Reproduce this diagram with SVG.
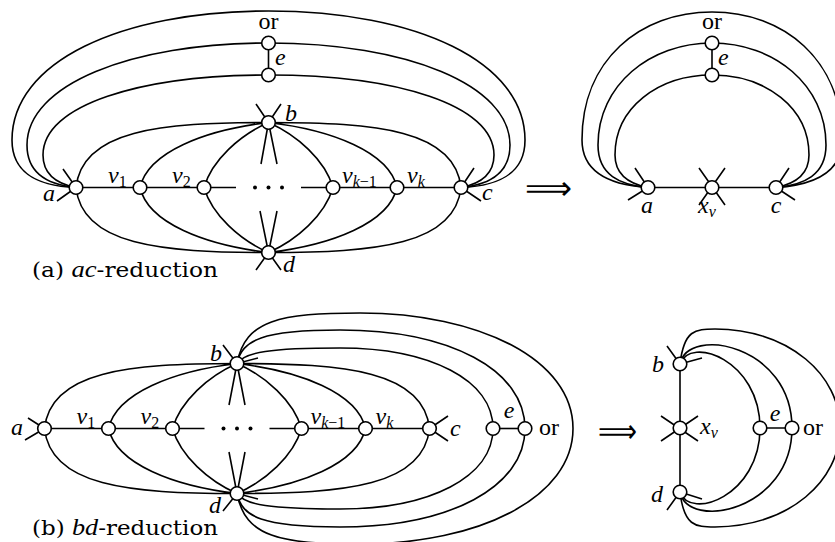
<svg xmlns="http://www.w3.org/2000/svg" width="835" height="542" viewBox="0 0 835 542">
<style>
.e{fill:none;stroke:#000;stroke-width:1.6}
.s{fill:none;stroke:#000;stroke-width:1.6}
.n{fill:#fff;stroke:#000;stroke-width:1.6}
.m{font-family:"Liberation Serif",serif;font-style:italic;font-size:24px}
.t{font-family:"Liberation Serif",serif;font-size:24px}
.sb{font-size:16px}
.up{font-style:normal}
.cap{font-family:"DejaVu Serif",serif;font-size:21px}
.ar{font-family:"DejaVu Sans",sans-serif;font-size:32px}
</style>
<rect width="835" height="542" fill="#fff"/>
<g id="connectors">
  <!-- part (a) left -->
  <path class="e" d="M76,187.5H236M301,187.5H461M268.5,43V75"/>
  <path class="e" d="M76,187.5C82,130 160,122.5 268.5,122.5M140,187.5C148,152 205,130 268.5,122.5M204,187.5C212,160 240,135 268.5,122.5"/>
  <path class="e" d="M461,187.5C455,130 377,122.5 268.5,122.5M397,187.5C389,152 332,130 268.5,122.5M333,187.5C325,160 297,135 268.5,122.5"/>
  <path class="e" d="M76,187.5C82,245 160,252.5 268.5,252.5M140,187.5C148,223 205,245 268.5,252.5M204,187.5C212,215 240,240 268.5,252.5"/>
  <path class="e" d="M461,187.5C455,245 377,252.5 268.5,252.5M397,187.5C389,223 332,245 268.5,252.5M333,187.5C325,215 297,240 268.5,252.5"/>
  <path class="e" d="M76,187.5C40,186 12,175 12,140C12,62 120,11 268.5,11C417,11 525,62 525,140C525,175 497,186 461,187.5"/>
  <path class="e" d="M76,187.5C50,185 27,175 27,145C27,85 130,43 268.5,43C407,43 510,85 510,145C510,175 487,185 461,187.5"/>
  <path class="e" d="M76,187.5C58,184 43,175 43,155C43,105 140,75 268.5,75C397,75 494,105 494,155C494,175 479,184 461,187.5"/>
  <!-- part (a) right -->
  <path class="e" d="M648,187.5H776M712,43V75"/>
  <path class="e" d="M648,187.5C610,185 582,172 582,140C582,60 640,12 712,12C784,12 842,60 842,140C842,172 814,185 776,187.5"/>
  <path class="e" d="M648,187.5C620,185 598,175 598,145C598,85 650,43 712,43C774,43 826,85 826,145C826,175 804,185 776,187.5"/>
  <path class="e" d="M648,187.5C630,184 615,175 615,155C615,108 658,75 712,75C766,75 809,108 809,155C809,175 794,184 776,187.5"/>
  <!-- part (b) left: shared core -->
  <g transform="translate(-31.5,241)">
    <path class="e" d="M76,187.5H236M301,187.5H461"/>
    <path class="e" d="M76,187.5C82,130 160,122.5 268.5,122.5M140,187.5C148,152 205,130 268.5,122.5M204,187.5C212,160 240,135 268.5,122.5"/>
    <path class="e" d="M461,187.5C455,130 377,122.5 268.5,122.5M397,187.5C389,152 332,130 268.5,122.5M333,187.5C325,160 297,135 268.5,122.5"/>
    <path class="e" d="M76,187.5C82,245 160,252.5 268.5,252.5M140,187.5C148,223 205,245 268.5,252.5M204,187.5C212,215 240,240 268.5,252.5"/>
    <path class="e" d="M461,187.5C455,245 377,252.5 268.5,252.5M397,187.5C389,223 332,245 268.5,252.5M333,187.5C325,215 297,240 268.5,252.5"/>
  </g>
  <path class="e" d="M493,428.5H525"/>
  <path class="e" d="M237,363.5C245,352 270,348 340,348C430,348 493,380 493,428.5C493,477 430,509 340,509C270,509 245,505 237,493.5"/>
  <path class="e" d="M237,363.5C242,340 262,330 340,330C450,330 525,370 525,428.5C525,487 450,527 340,527C262,527 242,517 237,493.5"/>
  <path class="e" d="M237,363.5C245,320 280,313 360,313C480,313 573,360 573,428.5C573,497 480,544 360,544C280,544 245,537 237,493.5"/>
  <!-- part (b) right -->
  <path class="e" d="M680,364V492M760,428H792"/>
  <path class="e" d="M680,364C690,335 760,360 760,428C760,496 690,521 680,492"/>
  <path class="e" d="M680,364C688,325 792,345 792,428C792,511 688,531 680,492"/>
  <path class="e" d="M680,364C684,330 695,329 715,329C790,330 840,375 840,428C840,481 790,526 715,527C695,527 684,526 680,492"/>
</g>
<g id="dots-a"><circle cx="255" cy="187.5" r="2"/><circle cx="268.5" cy="187.5" r="2"/><circle cx="282" cy="187.5" r="2"/></g>
<g id="dots-b"><circle cx="223.5" cy="428.5" r="2"/><circle cx="237" cy="428.5" r="2"/><circle cx="250.5" cy="428.5" r="2"/></g>

<!-- part (a) left nodes -->
<g id="a-a"><path class="s" d="M76,187.5L63,169M76,187.5L57,201"/><circle class="n" cx="76" cy="187.5" r="6.8"/><text class="m" x="49" y="201" text-anchor="middle">a</text></g>
<g id="a-v1"><circle class="n" cx="140" cy="187.5" r="6.8"/><text class="m" x="108" y="183">v<tspan class="sb up" dy="4">1</tspan></text></g>
<g id="a-v2"><circle class="n" cx="204" cy="187.5" r="6.8"/><text class="m" x="172" y="183">v<tspan class="sb up" dy="4">2</tspan></text></g>
<g id="a-vk1"><circle class="n" cx="333" cy="187.5" r="6.8"/><text class="m" x="342" y="183">v<tspan class="sb" dy="4">k</tspan><tspan class="sb up">−1</tspan></text></g>
<g id="a-vk"><circle class="n" cx="397" cy="187.5" r="6.8"/><text class="m" x="407" y="183">v<tspan class="sb" dy="4">k</tspan></text></g>
<g id="a-c"><path class="s" d="M461,187.5L474,168M461,187.5L481,201"/><circle class="n" cx="461" cy="187.5" r="6.8"/><text class="m" x="482" y="200">c</text></g>
<g id="a-b"><path class="s" d="M256,104L268.5,122.5L281,104M261,164L268.5,122.5L277,164"/><circle class="n" cx="268.5" cy="122.5" r="6.8"/><text class="m" x="285" y="121">b</text></g>
<g id="a-d"><path class="s" d="M260,211L268.5,252.5L277,211M256,270L268.5,252.5L281,270"/><circle class="n" cx="268.5" cy="252.5" r="6.8"/><text class="m" x="283" y="272">d</text></g>
<g id="a-or"><circle class="n" cx="268.5" cy="43" r="6.8"/><text class="t" x="268.5" y="29" text-anchor="middle">or</text></g>
<g id="a-e"><circle class="n" cx="268.5" cy="75" r="6.8"/><text class="m" x="275" y="65">e</text></g>

<!-- part (a) right nodes -->
<g id="a2-a"><path class="s" d="M648,187.5L635,168M648,187.5L628,200"/><circle class="n" cx="648" cy="187.5" r="6.8"/><text class="m" x="647" y="213" text-anchor="middle">a</text></g>
<g id="a2-xv"><path class="s" d="M699,168L725,205M725,168L699,205"/><circle class="n" cx="712" cy="187.5" r="6.8"/><text class="m" x="698" y="213">x<tspan class="sb" dy="4">v</tspan></text></g>
<g id="a2-c"><path class="s" d="M776,187.5L789,168M776,187.5L795,200"/><circle class="n" cx="776" cy="187.5" r="6.8"/><text class="m" x="776" y="213" text-anchor="middle">c</text></g>
<g id="a2-or"><circle class="n" cx="712" cy="43" r="6.8"/><text class="t" x="712" y="29" text-anchor="middle">or</text></g>
<g id="a2-e"><circle class="n" cx="712" cy="75" r="6.8"/><text class="m" x="718" y="65">e</text></g>

<!-- part (b) left nodes -->
<g id="b-a"><path class="s" d="M44.5,428.5L28,418M44.5,428.5L25,440"/><circle class="n" cx="44.5" cy="428.5" r="6.8"/><text class="m" x="17" y="435" text-anchor="middle">a</text></g>
<g id="b-v1"><circle class="n" cx="108.5" cy="428.5" r="6.8"/><text class="m" x="76.5" y="424">v<tspan class="sb up" dy="4">1</tspan></text></g>
<g id="b-v2"><circle class="n" cx="172.5" cy="428.5" r="6.8"/><text class="m" x="140.5" y="424">v<tspan class="sb up" dy="4">2</tspan></text></g>
<g id="b-vk1"><circle class="n" cx="301.5" cy="428.5" r="6.8"/><text class="m" x="310.5" y="424">v<tspan class="sb" dy="4">k</tspan><tspan class="sb up">−1</tspan></text></g>
<g id="b-vk"><circle class="n" cx="365.5" cy="428.5" r="6.8"/><text class="m" x="375.5" y="424">v<tspan class="sb" dy="4">k</tspan></text></g>
<g id="b-c"><path class="s" d="M429.5,428.5L448,416M429.5,428.5L448,441"/><circle class="n" cx="429.5" cy="428.5" r="6.8"/><text class="m" x="450" y="436">c</text></g>
<g id="b-b"><path class="s" d="M237,363.5L223,345M237,363.5L258,358M229,405L237,363.5L245,405"/><circle class="n" cx="237" cy="363.5" r="6.8"/><text class="m" x="210" y="361">b</text></g>
<g id="b-d"><path class="s" d="M237,493.5L223,511M237,493.5L258,499M229,452L237,493.5L245,452"/><circle class="n" cx="237" cy="493.5" r="6.8"/><text class="m" x="209" y="513">d</text></g>
<g id="b-e"><circle class="n" cx="493" cy="428.5" r="6.8"/><text class="m" x="509" y="418" text-anchor="middle">e</text></g>
<g id="b-or"><circle class="n" cx="525" cy="428.5" r="6.8"/><text class="t" x="539" y="435">or</text></g>

<!-- part (b) right nodes -->
<g id="b2-b"><path class="s" d="M680,364L667,346M680,364L702,358"/><circle class="n" cx="680" cy="364" r="6.8"/><text class="m" x="652" y="372">b</text></g>
<g id="b2-xv"><path class="s" d="M661,416L698,441M698,416L661,441"/><circle class="n" cx="680" cy="428" r="6.8"/><text class="m" x="700" y="434">x<tspan class="sb" dy="4">v</tspan></text></g>
<g id="b2-d"><path class="s" d="M680,492L667,510M680,492L702,499"/><circle class="n" cx="680" cy="492" r="6.8"/><text class="m" x="651" y="502">d</text></g>
<g id="b2-e"><circle class="n" cx="760" cy="428" r="6.8"/><text class="m" x="775" y="421" text-anchor="middle">e</text></g>
<g id="b2-or"><circle class="n" cx="792" cy="428" r="6.8"/><text class="t" x="803" y="435">or</text></g>

<g id="arrows">
  <text class="ar" x="525" y="198.5" textLength="47" lengthAdjust="spacingAndGlyphs">⟹</text>
  <text class="ar" x="598" y="441.5" textLength="39" lengthAdjust="spacingAndGlyphs">⟹</text>
</g>
<g id="captions">
  <text class="cap" x="32" y="277" textLength="186" lengthAdjust="spacingAndGlyphs">(a) <tspan class="m" font-size="22">ac</tspan>-reduction</text>
  <text class="cap" x="32" y="535" textLength="186" lengthAdjust="spacingAndGlyphs">(b) <tspan class="m" font-size="22">bd</tspan>-reduction</text>
</g>
</svg>
